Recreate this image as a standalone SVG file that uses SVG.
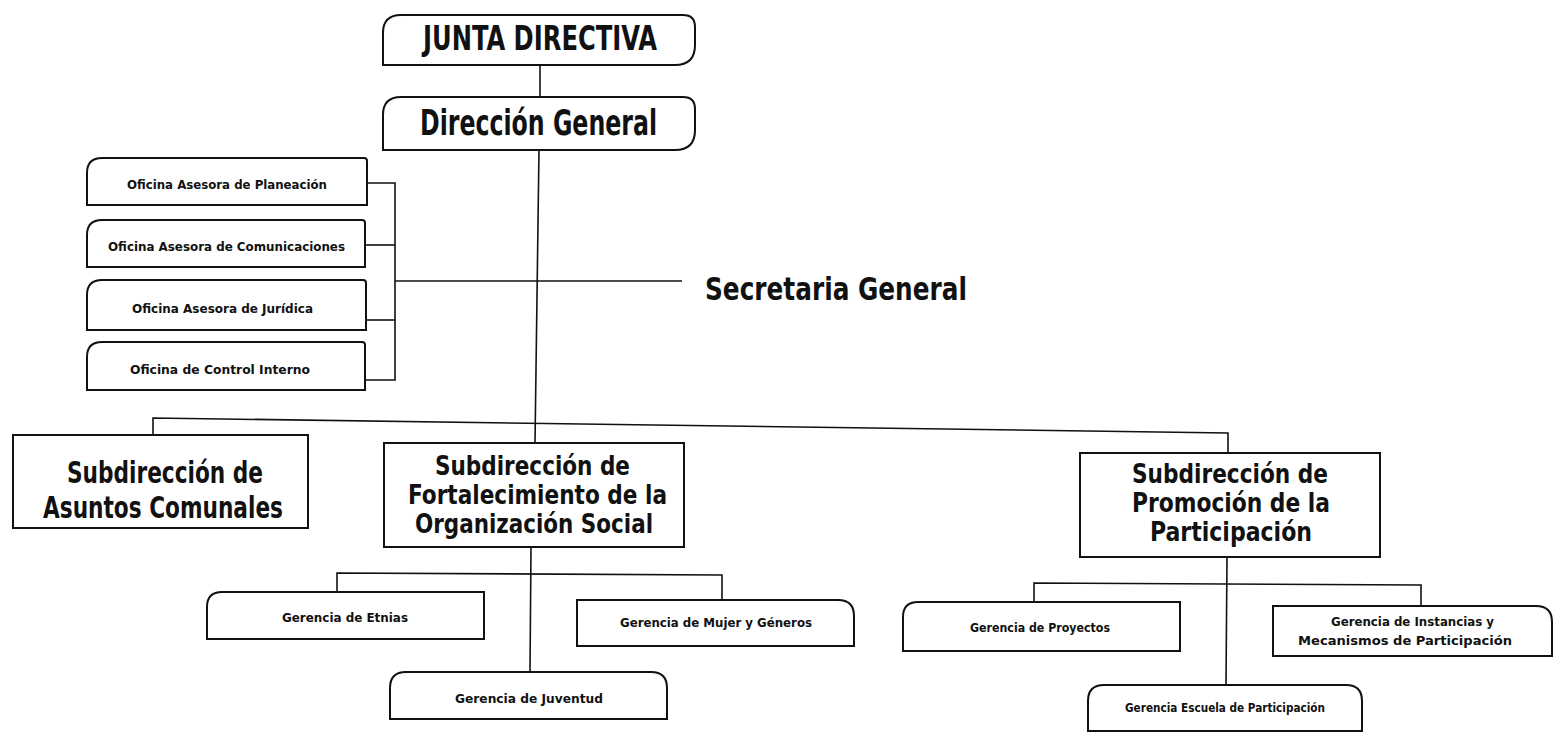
<svg xmlns="http://www.w3.org/2000/svg" width="1554" height="736" viewBox="0 0 1554 736">
<style>
.box{fill:#fff;stroke:#111;stroke-width:2}
.ln{fill:none;stroke:#111;stroke-width:1.6}
.t{font-family:"DejaVu Sans Condensed","Liberation Sans Narrow","Open Sans",sans-serif;font-weight:bold;fill:#111}
.big{font-size:34px}
.mid{font-size:27px}
.sm{font-size:12.5px}
</style>
<rect width="1554" height="736" fill="#fff"/>
<g id="connectors">
<line class="ln" x1="540" y1="65" x2="540" y2="97"/>
<polyline class="ln" points="539,150 535,443"/>
<polyline class="ln" points="153,435 153,418 1228,433 1228,453"/>
<polyline class="ln" points="367,183 395,183 395,380 365,380"/>
<line class="ln" x1="365" y1="245" x2="395" y2="245"/>
<line class="ln" x1="366" y1="320" x2="395" y2="320"/>
<line class="ln" x1="395" y1="281" x2="682" y2="281"/>
<line class="ln" x1="531" y1="547" x2="530" y2="672"/>
<polyline class="ln" points="337,592 337,573 722,575 722,600"/>
<line class="ln" x1="1227" y1="557" x2="1226" y2="685"/>
<polyline class="ln" points="1034,602 1034,583 1421,585 1421,606"/>
</g>
<g id="junta-directiva">
<path class="box" d="M383,33 Q383,15 401,15 L683,15 Q695,15 695,27 L695,45 Q695,65 675,65 L383,65 Z"/>
<text class="t big" x="423" y="50" textLength="234" lengthAdjust="spacingAndGlyphs">JUNTA DIRECTIVA</text>
</g>
<g id="direccion-general">
<path class="box" d="M383,115 Q383,97 401,97 L683,97 Q695,97 695,109 L695,130 Q695,150 675,150 L383,150 Z"/>
<text class="t" font-size="36" x="420" y="135" textLength="237" lengthAdjust="spacingAndGlyphs">Dirección General</text>
</g>
<g id="oficina-planeacion">
<path class="box" d="M87,173 Q87,158 102,158 L364,158 Q367,158 367,161 L367,205 L87,205 Z"/>
<text class="t sm" x="127" y="189" textLength="200" lengthAdjust="spacingAndGlyphs">Oficina Asesora de Planeación</text>
</g>
<g id="oficina-comunicaciones">
<path class="box" d="M87,235 Q87,220 102,220 L362,220 Q365,220 365,223 L365,267 L87,267 Z"/>
<text class="t sm" x="108" y="251" textLength="237" lengthAdjust="spacingAndGlyphs">Oficina Asesora de Comunicaciones</text>
</g>
<g id="oficina-juridica">
<path class="box" d="M87,295 Q87,280 102,280 L363,280 Q366,280 366,283 L366,330 L87,330 Z"/>
<text class="t sm" x="132" y="313" textLength="181" lengthAdjust="spacingAndGlyphs">Oficina Asesora de Jurídica</text>
</g>
<g id="oficina-control">
<path class="box" d="M87,357 Q87,342 102,342 L362,342 Q365,342 365,345 L365,390 L87,390 Z"/>
<text class="t sm" x="130" y="374" textLength="180" lengthAdjust="spacingAndGlyphs">Oficina de Control Interno</text>
</g>
<g id="secretaria-general">
<text class="t" font-size="32" x="705" y="300" textLength="262" lengthAdjust="spacingAndGlyphs">Secretaria General</text>
</g>
<g id="sub-asuntos">
<rect class="box" x="13" y="435" width="295" height="93"/>
<text class="t" font-size="31" x="67" y="483" textLength="196" lengthAdjust="spacingAndGlyphs">Subdirección de</text>
<text class="t" font-size="31" x="43" y="518" textLength="240" lengthAdjust="spacingAndGlyphs">Asuntos Comunales</text>
</g>
<g id="sub-fortalecimiento">
<rect class="box" x="384" y="443" width="300" height="104"/>
<text class="t mid" x="435" y="475" textLength="195" lengthAdjust="spacingAndGlyphs">Subdirección de</text>
<text class="t mid" x="408" y="504" textLength="259" lengthAdjust="spacingAndGlyphs">Fortalecimiento de la</text>
<text class="t mid" x="415" y="533" textLength="238" lengthAdjust="spacingAndGlyphs">Organización Social</text>
</g>
<g id="sub-promocion">
<rect class="box" x="1080" y="453" width="300" height="104"/>
<text class="t mid" x="1132" y="483" textLength="196" lengthAdjust="spacingAndGlyphs">Subdirección de</text>
<text class="t mid" x="1132" y="512" textLength="198" lengthAdjust="spacingAndGlyphs">Promoción de la</text>
<text class="t mid" x="1150" y="541" textLength="162" lengthAdjust="spacingAndGlyphs">Participación</text>
</g>
<g id="gerencia-etnias">
<path class="box" d="M207,607 Q207,592 222,592 L484,592 L484,639 L207,639 Z"/>
<text class="t sm" font-size="12" x="282" y="622" textLength="126" lengthAdjust="spacingAndGlyphs">Gerencia de Etnias</text>
</g>
<g id="gerencia-mujer">
<path class="box" d="M577,600 L838,600 Q854,600 854,616 L854,646 L577,646 Z"/>
<text class="t sm" font-size="12" x="620" y="627" textLength="192" lengthAdjust="spacingAndGlyphs">Gerencia de Mujer y Géneros</text>
</g>
<g id="gerencia-juventud">
<path class="box" d="M390,688 Q390,672 406,672 L651,672 Q667,672 667,688 L667,719 L390,719 Z"/>
<text class="t sm" font-size="12" x="455" y="703" textLength="148" lengthAdjust="spacingAndGlyphs">Gerencia de Juventud</text>
</g>
<g id="gerencia-proyectos">
<path class="box" d="M903,617 Q903,602 918,602 L1180,602 L1180,651 L903,651 Z"/>
<text class="t sm" font-size="12" x="970" y="632" textLength="140" lengthAdjust="spacingAndGlyphs">Gerencia de Proyectos</text>
</g>
<g id="gerencia-instancias">
<path class="box" d="M1273,606 L1536,606 Q1552,606 1552,622 L1552,656 L1273,656 Z"/>
<text class="t sm" font-size="12" x="1331" y="626" textLength="163" lengthAdjust="spacingAndGlyphs">Gerencia de Instancias y</text>
<text class="t sm" font-size="12" x="1298" y="645" textLength="214" lengthAdjust="spacingAndGlyphs">Mecanismos de Participación</text>
</g>
<g id="gerencia-escuela">
<path class="box" d="M1088,701 Q1088,685 1104,685 L1346,685 Q1362,685 1362,701 L1362,731 L1088,731 Z"/>
<text class="t sm" font-size="12" x="1125" y="712" textLength="200" lengthAdjust="spacingAndGlyphs">Gerencia Escuela de Participación</text>
</g>
</svg>
